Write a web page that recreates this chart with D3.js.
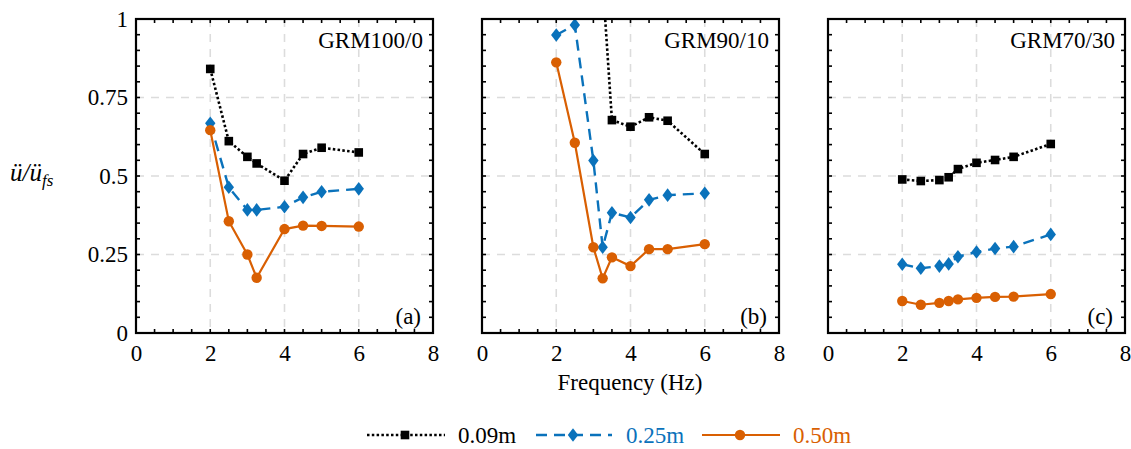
<!DOCTYPE html>
<html>
<head>
<meta charset="utf-8">
<script src="https://cdn.jsdelivr.net/npm/d3@7"></script>
<style>
  html, body { margin: 0; padding: 0; background: #fff; }
  svg { display: block; }
  text { font-family: "Liberation Serif", "Times New Roman", serif; fill: #000; }
</style>
</head>
<body>
<svg id="chart" width="1131" height="449"></svg>
<script>
// Excitation frequencies (Hz)
const freqA = [2, 2.5, 3, 3.25, 4, 4.5, 5, 6];
const freqBC = [2, 2.5, 3, 3.25, 3.5, 4, 4.5, 5, 6];
const freqB09 = [3.25, 3.5, 4, 4.5, 5, 6];

// Normalised acceleration ü/ü_fs — GRM100/0
const a009 = [0.841, 0.611, 0.561, 0.540, 0.485, 0.570, 0.590, 0.575];
const a025 = [0.668, 0.464, 0.392, 0.392, 0.402, 0.432, 0.450, 0.459];
const a050 = [0.646, 0.356, 0.250, 0.176, 0.331, 0.342, 0.341, 0.339];

// GRM90/10 (the 0.09m series runs off the top below 3.5 Hz)
const b009 = [1.12, 0.678, 0.657, 0.687, 0.676, 0.570];
const b025 = [0.949, 0.981, 0.549, 0.273, 0.383, 0.368, 0.424, 0.439, 0.445];
const b050 = [0.862, 0.606, 0.273, 0.174, 0.241, 0.213, 0.267, 0.267, 0.283];

// GRM70/30
const c009 = [0.489, 0.484, 0.487, 0.496, 0.522, 0.542, 0.551, 0.561, 0.602];
const c025 = [0.219, 0.206, 0.213, 0.220, 0.243, 0.258, 0.269, 0.275, 0.314];
const c050 = [0.102, 0.090, 0.096, 0.102, 0.107, 0.112, 0.115, 0.116, 0.124];

const panelTitles = ["GRM100/0", "GRM90/10", "GRM70/30"];
const panelTags = ["(a)", "(b)", "(c)"];
const seriesNames = ["0.09m", "0.25m", "0.50m"];
const xTicks = [0, 2, 4, 6, 8];
const yTicks = [0, 0.25, 0.5, 0.75, 1];
const yTickLabels = ["0", "0.25", "0.5", "0.75", "1"];

const colors = ["#000000", "#0a72bb", "#D95F02"];
const dashes = ["2.5 2.3", "11 7", null];
const widths = [2.6, 2.4, 2.2];

const panels = [
  { left: 136, x: [freqA, freqA, freqA], y: [a009, a025, a050] },
  { left: 482, x: [freqB09, freqBC, freqBC], y: [b009, b025, b050] },
  { left: 828, x: [freqBC, freqBC, freqBC], y: [c009, c025, c050] }
];
const pw = 297, plotTop = 19, plotBottom = 333;
const fs = 23;

const svg = d3.select("#chart");
const defs = svg.append("defs");

function drawMarker(g, kind, cx, cy, color) {
  if (kind === 0) {
    g.append("rect").attr("x", cx - 4.3).attr("y", cy - 4.3)
      .attr("width", 8.6).attr("height", 8.6).attr("fill", color);
  } else if (kind === 1) {
    g.append("path")
      .attr("d", `M${cx},${cy - 6.8}L${cx + 5.2},${cy}L${cx},${cy + 6.8}L${cx - 5.2},${cy}Z`)
      .attr("fill", color);
  } else {
    g.append("circle").attr("cx", cx).attr("cy", cy).attr("r", 5.2).attr("fill", color);
  }
}

const y = d3.scaleLinear().domain([0, 1]).range([plotBottom, plotTop]);

panels.forEach((p, pi) => {
  const x = d3.scaleLinear().domain([0, 8]).range([p.left, p.left + pw]);
  const g = svg.append("g");

  // dashed grid at interior major ticks
  g.append("g").selectAll("line").data([2, 4, 6]).join("line")
    .attr("x1", d => x(d)).attr("x2", d => x(d))
    .attr("y1", plotTop).attr("y2", plotBottom)
    .attr("stroke", "#dcdcdc").attr("stroke-width", 1.6).attr("stroke-dasharray", "8 7");
  g.append("g").selectAll("line").data([0.25, 0.5, 0.75]).join("line")
    .attr("x1", p.left).attr("x2", p.left + pw)
    .attr("y1", d => y(d)).attr("y2", d => y(d))
    .attr("stroke", "#dcdcdc").attr("stroke-width", 1.6).attr("stroke-dasharray", "8 7");

  // inward ticks on all four sides
  const xt = d3.range(0, 8.01, 0.5);
  const yt = d3.range(0, 1.001, 0.05);
  const tl = 4;
  const tg = g.append("g").attr("stroke", "#000").attr("stroke-width", 1.6);
  xt.forEach(v => {
    tg.append("line").attr("x1", x(v)).attr("x2", x(v)).attr("y1", plotBottom).attr("y2", plotBottom - tl);
    tg.append("line").attr("x1", x(v)).attr("x2", x(v)).attr("y1", plotTop).attr("y2", plotTop + tl);
  });
  yt.forEach(v => {
    tg.append("line").attr("x1", p.left).attr("x2", p.left + tl).attr("y1", y(v)).attr("y2", y(v));
    tg.append("line").attr("x1", p.left + pw).attr("x2", p.left + pw - tl).attr("y1", y(v)).attr("y2", y(v));
  });

  // x tick labels
  const xAxis = d3.axisBottom(x).tickValues(xTicks).tickSize(0).tickPadding(12).tickFormat(d3.format("d"));
  const xa = g.append("g").attr("transform", `translate(0,${plotBottom})`).call(xAxis);
  xa.select(".domain").remove();
  xa.selectAll("text").attr("font-size", fs).attr("font-family", "Liberation Serif").attr("fill", "#000");

  if (pi === 0) {
    const yAxis = d3.axisLeft(y).tickValues(yTicks).tickSize(0).tickPadding(8)
      .tickFormat((d, i) => yTickLabels[i]);
    const ya = g.append("g").attr("transform", `translate(${p.left},0)`).call(yAxis);
    ya.select(".domain").remove();
    ya.selectAll("text").attr("font-size", fs).attr("font-family", "Liberation Serif").attr("fill", "#000");
  }

  // data, clipped to the frame
  const cid = "clip" + pi;
  defs.append("clipPath").attr("id", cid).append("rect")
    .attr("x", p.left).attr("y", plotTop).attr("width", pw).attr("height", plotBottom - plotTop);
  const dg = g.append("g").attr("clip-path", `url(#${cid})`);
  p.y.forEach((vals, si) => {
    const pts = vals.map((v, i) => [p.x[si][i], v]);
    const line = d3.line().x(d => x(d[0])).y(d => y(d[1]));
    dg.append("path").attr("d", line(pts)).attr("fill", "none")
      .attr("stroke", colors[si]).attr("stroke-width", widths[si])
      .attr("stroke-dasharray", dashes[si]);
    pts.forEach(d => drawMarker(dg, si, x(d[0]), y(d[1]), colors[si]));
  });

  // frame
  g.append("rect").attr("x", p.left).attr("y", plotTop).attr("width", pw).attr("height", plotBottom - plotTop)
    .attr("fill", "none").attr("stroke", "#000").attr("stroke-width", 2.2);

  g.append("text").attr("x", p.left + pw - 10).attr("y", 48).attr("text-anchor", "end")
    .attr("font-size", fs).text(panelTitles[pi]);
  g.append("text").attr("x", p.left + pw - 12).attr("y", 324).attr("text-anchor", "end")
    .attr("font-size", fs).text(panelTags[pi]);
});

// axis titles
svg.append("text").attr("x", 630).attr("y", 390).attr("text-anchor", "middle")
  .attr("font-size", fs).text("Frequency (Hz)");
const yl = svg.append("text").attr("x", 10).attr("y", 181)
  .attr("font-size", 25).attr("font-style", "italic").attr("font-family", "DejaVu Serif");
yl.append("tspan").text("ü/ü");
yl.append("tspan").attr("dy", 5).attr("font-size", 17).text("fs");

// legend
const legend = [
  { x1: 367, x2: 445, m: 405, t: 458 },
  { x1: 536, x2: 612, m: 573, t: 626 },
  { x1: 702, x2: 780, m: 740, t: 793 }
];
const ly = 435;
legend.forEach((L, i) => {
  const lg = svg.append("g");
  lg.append("line").attr("x1", L.x1).attr("x2", L.x2).attr("y1", ly).attr("y2", ly)
    .attr("stroke", colors[i]).attr("stroke-width", widths[i]).attr("stroke-dasharray", dashes[i]);
  drawMarker(lg, i, L.m, ly, colors[i]);
  lg.append("text").attr("x", L.t).attr("y", ly + 8).attr("font-size", fs)
    .style("fill", colors[i]).text(seriesNames[i]);
});
</script>
</body>
</html>
